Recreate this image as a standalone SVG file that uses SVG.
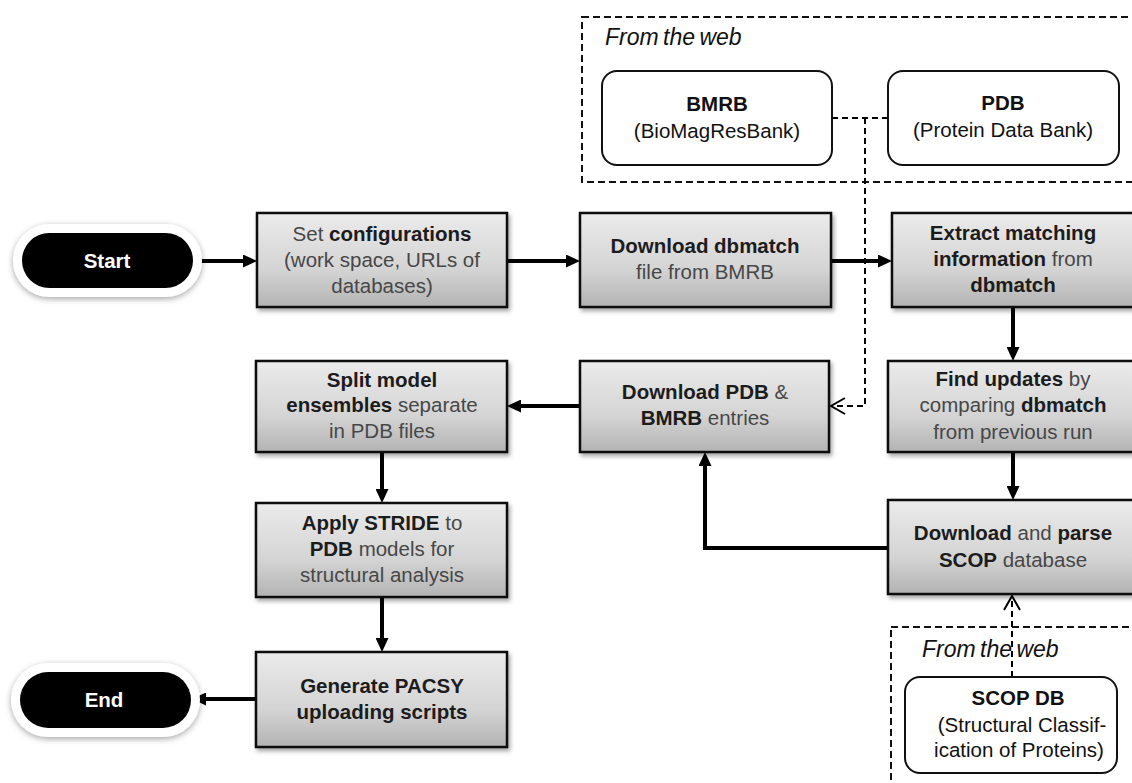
<svg xmlns="http://www.w3.org/2000/svg" width="1132" height="783" viewBox="0 0 1132 783">
<defs>
<linearGradient id="boxGrad" x1="0" y1="0" x2="0" y2="1">
<stop offset="0" stop-color="#ebebeb"/>
<stop offset="0.6" stop-color="#d4d4d4"/>
<stop offset="1" stop-color="#b3b3b3"/>
</linearGradient>
<filter id="shadow" x="-10%" y="-10%" width="130%" height="140%">
<feDropShadow dx="2" dy="3" stdDeviation="2" flood-color="#000" flood-opacity="0.35"/>
</filter>
<filter id="halo" x="-20%" y="-40%" width="140%" height="180%">
<feDropShadow dx="0" dy="2" stdDeviation="3" flood-color="#000" flood-opacity="0.35"/>
</filter>
<marker id="arrow" markerUnits="userSpaceOnUse" viewBox="0 0 14 13" markerWidth="14" markerHeight="13" refX="9" refY="6.5" orient="auto">
<path d="M0,0 L14,6.5 L0,13 z" fill="#000"/>
</marker>
<marker id="open" markerUnits="userSpaceOnUse" viewBox="0 0 18 18" markerWidth="18" markerHeight="18" refX="16" refY="9" orient="auto">
<path d="M2,1 L16,9 L2,17" fill="none" stroke="#000" stroke-width="2" stroke-dasharray="none"/>
</marker>
</defs>
<style>
.box{fill:url(#boxGrad);stroke:#111;stroke-width:2.5;filter:url(#shadow);}
.web{fill:#fff;stroke:#111;stroke-width:2;}
.zone{fill:none;stroke:#111;stroke-width:2;stroke-dasharray:7 4;}
.t{font-family:"Liberation Sans",Arial,sans-serif;font-size:20.5px;text-anchor:middle;fill:#474747;}
.b{font-weight:bold;fill:#1c1c1c;}
.it{font-family:"Liberation Sans",Arial,sans-serif;font-size:23px;font-style:italic;fill:#111;word-spacing:-2px;}
.wt{font-family:"Liberation Sans",Arial,sans-serif;font-size:20.5px;font-weight:bold;text-anchor:middle;fill:#fff;}
.wb{font-family:"Liberation Sans",Arial,sans-serif;font-size:20.5px;text-anchor:middle;fill:#111;}
.solid{fill:none;stroke:#000;stroke-width:4;marker-end:url(#arrow);}
.dash{fill:none;stroke:#000;stroke-width:2;stroke-dasharray:6 4;}
</style>

<g id="web-top">
<rect class="zone" x="582" y="17" width="600" height="165"/>
<text class="it" x="605" y="45">From the web</text>
</g>
<g id="web-bottom">
<rect class="zone" x="891" y="627" width="300" height="200"/>
<text class="it" x="922" y="657">From the web</text>
</g>

<g id="connectors">
<line class="solid" x1="193" y1="261" x2="252" y2="261"/>
<line class="solid" x1="507" y1="261" x2="575" y2="261"/>
<line class="solid" x1="831" y1="261" x2="887" y2="261"/>
<line class="solid" x1="1013" y1="307" x2="1013" y2="356"/>
<line class="solid" x1="1013" y1="452" x2="1013" y2="495"/>
<path class="solid" d="M888,548 H705 V457"/>
<line class="solid" x1="580" y1="406" x2="512" y2="406"/>
<line class="solid" x1="382" y1="452" x2="382" y2="498"/>
<line class="solid" x1="382" y1="597" x2="382" y2="647"/>
<line class="solid" x1="256" y1="699" x2="197" y2="699"/>
<line class="dash" x1="832" y1="118" x2="888" y2="118"/>
<path class="dash" d="M865,118 V406 H831" marker-end="url(#open)"/>
<path class="dash" d="M1012,677 V596" marker-end="url(#open)"/>
</g>

<g id="bmrb">
<rect class="web" x="602" y="71" width="230" height="94" rx="15"/>
<text class="wb" x="717" y="111" font-weight="bold">BMRB</text>
<text class="wb" x="717" y="138">(BioMagResBank)</text>
</g>
<g id="pdb">
<rect class="web" x="888" y="71" width="231" height="94" rx="15"/>
<text class="wb" x="1003" y="110" font-weight="bold">PDB</text>
<text class="wb" x="1003" y="137">(Protein Data Bank)</text>
</g>
<g id="scopdb">
<rect class="web" x="905" y="677" width="212" height="96" rx="15"/>
<text class="wb" x="1018" y="705" font-weight="bold">SCOP DB</text>
<text class="wb" x="1022" y="732">(Structural Classif-</text>
<text class="wb" x="1019" y="757">ication of Proteins)</text>
</g>

<g id="start">
<rect x="13" y="224" width="189" height="73" rx="36.5" fill="#fff" filter="url(#halo)"/>
<rect x="22" y="233" width="171" height="55" rx="27.5" fill="#000"/>
<text class="wt" x="107" y="268">Start</text>
</g>
<g id="end">
<rect x="11" y="663" width="189" height="74" rx="37" fill="#fff" filter="url(#halo)"/>
<rect x="20" y="672" width="171" height="56" rx="28" fill="#000"/>
<text class="wt" x="104" y="707">End</text>
</g>

<g id="set-config">
<rect class="box" x="257" y="213" width="250" height="94"/>
<text class="t" x="382" y="241">Set <tspan class="b">configurations</tspan></text>
<text class="t" x="382" y="267">(work space, URLs of</text>
<text class="t" x="382" y="293">databases)</text>
</g>
<g id="download-dbmatch">
<rect class="box" x="580" y="213" width="251" height="94"/>
<text class="t" x="705" y="253"><tspan class="b">Download dbmatch</tspan></text>
<text class="t" x="705" y="279">file from BMRB</text>
</g>
<g id="extract">
<rect class="box" x="892" y="213" width="246" height="94"/>
<text class="t b" x="1013" y="240">Extract matching</text>
<text class="t" x="1013" y="266"><tspan class="b">information</tspan> from</text>
<text class="t b" x="1013" y="292">dbmatch</text>
</g>
<g id="find-updates">
<rect class="box" x="888" y="361" width="250" height="91"/>
<text class="t" x="1013" y="386"><tspan class="b">Find updates</tspan> by</text>
<text class="t" x="1013" y="412">comparing <tspan class="b">dbmatch</tspan></text>
<text class="t" x="1013" y="439">from previous run</text>
</g>
<g id="download-scop">
<rect class="box" x="888" y="500" width="250" height="94"/>
<text class="t" x="1013" y="540"><tspan class="b">Download</tspan> and <tspan class="b">parse</tspan></text>
<text class="t" x="1013" y="567"><tspan class="b">SCOP</tspan> database</text>
</g>
<g id="download-pdb">
<rect class="box" x="580" y="361" width="249" height="91"/>
<text class="t" x="705" y="399"><tspan class="b">Download PDB</tspan> &amp;</text>
<text class="t" x="705" y="425"><tspan class="b">BMRB</tspan> entries</text>
</g>
<g id="split">
<rect class="box" x="256" y="361" width="251" height="91"/>
<text class="t b" x="382" y="387">Split model</text>
<text class="t" x="382" y="412"><tspan class="b">ensembles</tspan> separate</text>
<text class="t" x="382" y="438">in PDB files</text>
</g>
<g id="apply-stride">
<rect class="box" x="256" y="503" width="251" height="94"/>
<text class="t" x="382" y="530"><tspan class="b">Apply STRIDE</tspan> to</text>
<text class="t" x="382" y="556"><tspan class="b">PDB</tspan> models for</text>
<text class="t" x="382" y="582">structural analysis</text>
</g>
<g id="generate">
<rect class="box" x="256" y="652" width="251" height="95"/>
<text class="t b" x="382" y="693">Generate PACSY</text>
<text class="t b" x="382" y="719">uploading scripts</text>
</g>
</svg>
